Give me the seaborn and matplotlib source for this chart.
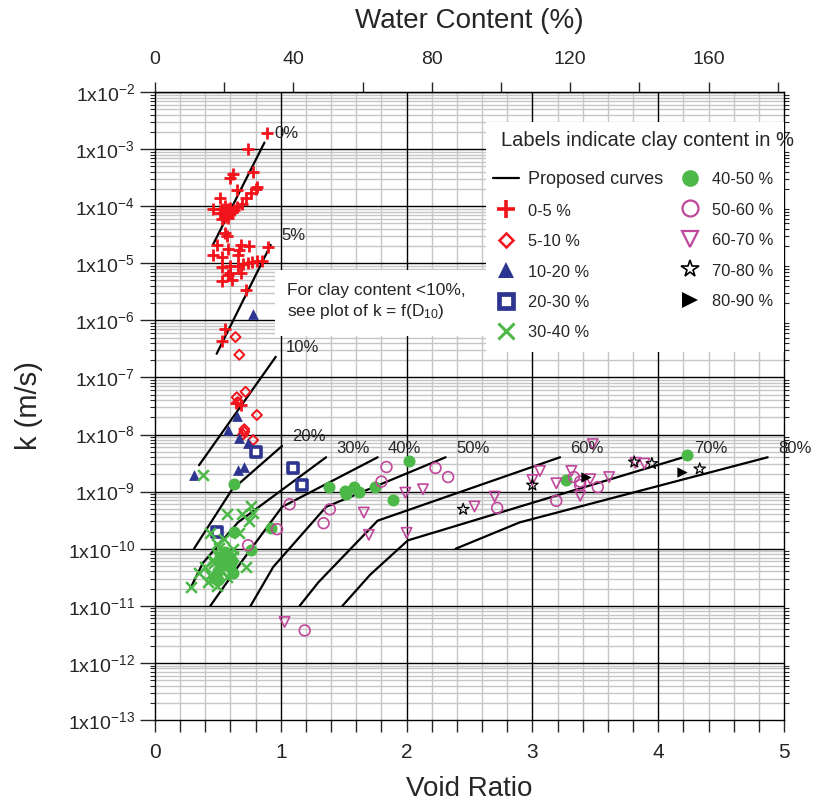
import numpy as np
import pandas as pd
import matplotlib
matplotlib.use("Agg")
import matplotlib.pyplot as plt
import matplotlib.ticker as mticker
from matplotlib.lines import Line2D
from matplotlib.patches import Rectangle
import seaborn as sns

# ---------------- data ----------------
# Proposed curves (void ratio, k in m/s) at their break points
curve_names = ["0%", "5%", "10%", "20%", "30%", "40%", "50%", "60%", "70%", "80%"]
curve_e = [
    [0.46, 0.87],
    [0.49, 0.92],
    [0.35, 0.96],
    [0.31, 0.61, 1.01],
    [0.28, 0.38, 0.66, 1.36],
    [0.44, 0.68, 1.01, 1.77],
    [0.76, 0.94, 1.36, 2.31],
    [1.15, 1.30, 1.77, 3.22],
    [1.49, 1.71, 2.01, 4.20],
    [2.39, 2.90, 4.87],
]
curve_k = [
    [2.1e-5, 1.3e-3],
    [2.6e-7, 2.1e-5],
    [2.9e-9, 2.3e-7],
    [1.0e-10, 1.07e-9, 6.3e-9],
    [2.0e-11, 5.6e-11, 2.9e-10, 4.0e-9],
    [1.0e-11, 5.6e-11, 5.4e-10, 4.0e-9],
    [1.0e-11, 4.8e-11, 5.4e-10, 4.0e-9],
    [1.0e-11, 2.6e-11, 3.1e-10, 4.0e-9],
    [1.0e-11, 3.5e-11, 1.4e-10, 4.0e-9],
    [1.0e-10, 2.9e-10, 4.0e-9],
]

# Measured samples, grouped by clay content
e_0_5 = [0.89, 0.74, 0.78, 0.62, 0.60, 0.81, 0.80, 0.65, 0.76, 0.72, 0.52, 0.69, 0.65, 0.46,
         0.53, 0.56, 0.58, 0.60, 0.54, 0.57, 0.60, 0.56, 0.58, 0.53, 0.61, 0.52, 0.56, 0.63,
         0.56, 0.57, 0.49, 0.58, 0.68, 0.75, 0.67, 0.46, 0.53, 0.66, 0.53, 0.60, 0.66, 0.70,
         0.74, 0.77, 0.81, 0.85, 0.60, 0.58, 0.68, 0.53, 0.61, 0.72, 0.90, 0.56, 0.53, 0.64, 0.68]
k_0_5 = [1.9e-3, 1.0e-3, 3.9e-4, 3.6e-4, 3.1e-4, 2.2e-4, 2.0e-4, 1.9e-4, 1.7e-4, 1.4e-4, 1.4e-4,
         1.1e-4, 9.8e-5, 9.0e-5, 8.9e-5, 8.6e-5, 8.9e-5, 9.3e-5, 7.6e-5, 7.3e-5, 7.6e-5, 6.5e-5,
         6.2e-5, 6.0e-5, 7.9e-5, 7.6e-5, 1.0e-4, 8.6e-5, 3.4e-5, 3.0e-5, 2.1e-5, 1.8e-5, 2.1e-5,
         2.0e-5, 1.7e-5, 1.4e-5, 1.3e-5, 1.4e-5, 8.7e-6, 8.9e-6, 9.0e-6, 9.7e-6, 1.0e-5, 1.05e-5,
         1.1e-5, 1.1e-5, 6.8e-6, 6.2e-6, 6.8e-6, 4.8e-6, 5.0e-6, 3.4e-6, 1.95e-5, 7.1e-7, 4.4e-7,
         3.6e-8, 3.3e-8]

e_5_10 = [0.64, 0.67, 0.72, 0.65, 0.66, 0.81, 0.71, 0.71, 0.78, 0.70]
k_5_10 = [5.1e-7, 2.5e-7, 5.6e-8, 4.5e-8, 3.7e-8, 2.2e-8, 1.24e-8, 1.12e-8, 8.0e-9, 1.0e-8]

e_10_20 = [0.78, 0.65, 0.58, 0.67, 0.74, 0.31, 0.66, 0.71]
k_10_20 = [1.3e-6, 2.1e-8, 1.2e-8, 8.6e-9, 7.0e-9, 1.96e-9, 2.4e-9, 2.7e-9]

e_20_30 = [0.80, 0.49, 1.10, 1.17]
k_20_30 = [5.0e-9, 2.0e-10, 2.6e-9, 1.3e-9]

e_30_40 = [0.38, 0.57, 0.69, 0.76, 0.78, 0.75, 0.44, 0.67, 0.55, 0.51, 0.62, 0.46, 0.35,
           0.42, 0.72, 0.29, 0.49, 0.50, 0.47, 0.53, 0.44, 0.57, 0.40, 0.62, 0.49]
k_30_40 = [1.96e-9, 4.1e-10, 4.0e-10, 5.5e-10, 4.2e-10, 3.0e-10, 1.9e-10, 1.9e-10, 1.5e-10,
           1.05e-10, 9.8e-11, 6.4e-11, 3.7e-11, 2.6e-11, 4.8e-11, 2.1e-11, 2.2e-11, 7.8e-11,
           5.6e-11, 4.1e-11, 3.5e-11, 3.2e-11, 4.8e-11, 7.5e-11, 1.2e-10]

e_40_50 = [0.63, 0.92, 0.76, 0.63, 1.38, 1.51, 1.52, 1.58, 1.62, 1.75, 1.89, 2.02, 3.27, 4.23,
           0.52, 0.60, 0.53, 0.60, 0.50, 0.62, 0.50, 0.55, 0.47, 0.56, 0.61]
k_40_50 = [1.35e-9, 2.3e-10, 9.5e-11, 2.0e-10, 1.2e-9, 1.03e-9, 9.1e-10, 1.2e-9, 1.0e-9, 1.2e-9,
           7.2e-10, 3.5e-9, 1.6e-9, 4.3e-9, 7.3e-11, 7.3e-11, 5.2e-11, 4.7e-11, 4.0e-11, 3.7e-11,
           2.8e-11, 6.4e-11, 3.1e-11, 8.8e-11, 6.1e-11]

e_50_60 = [1.07, 0.97, 1.39, 1.34, 0.74, 1.19, 1.84, 1.80, 2.23, 2.33, 2.72, 3.19, 3.33, 3.38,
           3.38, 3.52]
k_50_60 = [6.0e-10, 2.2e-10, 4.9e-10, 2.8e-10, 1.15e-10, 3.7e-12, 2.7e-9, 1.5e-9, 2.6e-9, 1.8e-9,
           5.2e-10, 6.9e-10, 1.8e-9, 1.5e-9, 1.3e-9, 1.2e-9]

e_60_70 = [1.03, 1.66, 1.70, 2.00, 1.99, 2.13, 2.54, 2.70, 3.00, 3.06, 3.19, 3.31, 3.38, 3.46,
           3.61, 3.48, 3.82, 3.89]
k_60_70 = [5.2e-12, 4.3e-10, 1.75e-10, 1.9e-10, 9.6e-10, 1.1e-9, 5.5e-10, 8.2e-10, 1.6e-9, 2.3e-9,
           1.4e-9, 2.3e-9, 8.4e-10, 1.65e-9, 1.8e-9, 6.8e-9, 3.2e-9, 3.1e-9]

e_70_80 = [2.45, 3.00, 3.95, 4.33, 3.81]
k_70_80 = [4.9e-10, 1.3e-9, 3.1e-9, 2.5e-9, 3.3e-9]

e_80_90 = [4.19, 3.43]
k_80_90 = [2.2e-9, 1.8e-9]

group_labels = ["0-5 %", "5-10 %", "10-20 %", "20-30 %", "30-40 %",
                "40-50 %", "50-60 %", "60-70 %", "70-80 %", "80-90 %"]
group_e = [e_0_5, e_5_10, e_10_20, e_20_30, e_30_40, e_40_50, e_50_60, e_60_70, e_70_80, e_80_90]
group_k = [k_0_5, k_5_10, k_10_20, k_20_30, k_30_40, k_40_50, k_50_60, k_60_70, k_70_80, k_80_90]

y_decades = list(range(-13, -1))
x_ticks = [0, 1, 2, 3, 4, 5]
w_ticks = [0, 40, 80, 120, 160]
w_minor = [20, 60, 100, 140, 180]
GS = 2.75  # specific gravity linking void ratio to water content (saturated soil)

# ---------------- styling ----------------
RED = "#f2131b"
NAVY = "#2d3590"
GREEN = "#4cb848"
MAG = "#c0479b"

sns.set_style("ticks")
plt.rcParams["font.family"] = ["Liberation Sans", "DejaVu Sans"]
plt.rcParams["mathtext.fontset"] = "custom"
plt.rcParams["mathtext.rm"] = "Liberation Sans"
plt.rcParams["mathtext.it"] = "Liberation Sans:italic"
plt.rcParams["mathtext.bf"] = "Liberation Sans:bold"

scatter_styles = {
    "0-5 %": dict(marker="+", color=RED, s=85, linewidth=2.0),
    "5-10 %": dict(marker="D", color=RED, facecolor="none", edgecolor=RED, s=26, linewidth=1.4),
    "10-20 %": dict(marker="^", color=NAVY, edgecolor=NAVY, s=60, linewidth=0),
    "20-30 %": dict(marker="s", color=NAVY, facecolor="white", edgecolor=NAVY, s=55, linewidth=2.6),
    "30-40 %": dict(marker="x", color=GREEN, s=60, linewidth=1.8),
    "40-50 %": dict(marker="o", color=GREEN, edgecolor=GREEN, s=75, linewidth=0),
    "50-60 %": dict(marker="o", color=MAG, facecolor="none", edgecolor=MAG, s=60, linewidth=1.2),
    "60-70 %": dict(marker="v", color=MAG, facecolor="none", edgecolor=MAG, s=55, linewidth=1.2),
    "70-80 %": dict(marker="*", color="black", facecolor="none", edgecolor="black", s=75,
                    linewidth=0.9),
    "80-90 %": dict(marker=">", color="black", edgecolor="black", s=55, linewidth=0),
}
legend_styles = {
    "0-5 %": dict(marker="+", color=RED, ms=13, mew=2.6, ls="none"),
    "5-10 %": dict(marker="D", color=RED, mfc="white", ms=7.5, mew=1.8, ls="none"),
    "10-20 %": dict(marker="^", color=NAVY, ms=11.5, mew=0, ls="none"),
    "20-30 %": dict(marker="s", color=NAVY, mfc="white", ms=9.5, mew=3.4, ls="none"),
    "30-40 %": dict(marker="x", color=GREEN, ms=11, mew=2.2, ls="none"),
    "40-50 %": dict(marker="o", color=GREEN, ms=12, mew=0, ls="none"),
    "50-60 %": dict(marker="o", color=MAG, mfc="white", ms=11.5, mew=1.6, ls="none"),
    "60-70 %": dict(marker="v", color=MAG, mfc="white", ms=11, mew=1.6, ls="none"),
    "70-80 %": dict(marker="*", color="black", mfc="white", ms=13, mew=1.2, ls="none"),
    "80-90 %": dict(marker=">", color="black", ms=11, mew=0, ls="none"),
}

W, H = 814, 808
fig = plt.figure(figsize=(W / 100, H / 100), dpi=100)
ax = fig.add_axes([155 / W, 1 - 720 / H, (784 - 155) / W, (720 - 92) / H])
ax.set_yscale("log")
ax.set_xlim(0, 5)
ax.set_ylim(1e-13, 1e-2)

# grid: grey minor lines, black major lines laid over them
ax.set_axisbelow(True)
x_minor = [round(i * 0.2, 1) for i in range(26) if i % 5 != 0]
ax.xaxis.set_major_locator(mticker.FixedLocator(x_ticks))
ax.xaxis.set_minor_locator(mticker.FixedLocator(x_minor))
ax.yaxis.set_major_locator(mticker.FixedLocator([10.0 ** d for d in y_decades]))
ax.yaxis.set_minor_locator(mticker.LogLocator(base=10, subs=np.arange(2, 10), numticks=40))
ax.yaxis.set_major_formatter(mticker.FuncFormatter(
    lambda v, p: r"1x10$^{%d}$" % int(round(np.log10(v)))))
ax.yaxis.set_minor_formatter(mticker.NullFormatter())
ax.grid(which="minor", color="#c6c6c6", linewidth=1.0)
for xv in x_ticks[1:-1]:
    ax.axvline(xv, color="black", linewidth=1.0, zorder=0.9)
for d in y_decades[1:]:
    ax.axhline(10.0 ** d, color="black", linewidth=1.0, zorder=0.9)
for sp in ax.spines.values():
    sp.set_linewidth(1.0)
    sp.set_color("black")

ax.tick_params(axis="x", which="both", direction="out", length=8.5, width=1, pad=8,
               labelsize=15, top=False)
ax.tick_params(axis="y", which="major", direction="out", length=10.5, width=1, pad=4,
               labelsize=14)
ax.tick_params(axis="y", which="minor", direction="out", length=3.5, width=0.8, right=True)

# proposed curves
curve_df = pd.concat(
    [pd.DataFrame({"curve": n, "e": e, "k": k}) for n, e, k in zip(curve_names, curve_e, curve_k)],
    ignore_index=True)
sns.lineplot(data=curve_df, x="e", y="k", units="curve", estimator=None, sort=False,
             color="black", linewidth=1.6, ax=ax, legend=False, zorder=3)
for n, e, k in zip(curve_names, curve_e, curve_k):
    ax.annotate(n, xy=(e[-1], k[-1]), xytext=(7.5, 6.5), textcoords="offset points",
                ha="left", va="center", fontsize=12, annotation_clip=False, zorder=6)

# measured samples
sample_df = pd.concat(
    [pd.DataFrame({"group": g, "e": e, "k": k}) for g, e, k in zip(group_labels, group_e, group_k)],
    ignore_index=True)
for g in group_labels:
    sub = sample_df[sample_df["group"] == g]
    sns.scatterplot(data=sub, x="e", y="k", ax=ax, legend=False, zorder=4, **scatter_styles[g])
ax.set_xlabel("Void Ratio", fontsize=20, labelpad=10)
ax.set_ylabel("k (m/s)", fontsize=21, labelpad=18)

# water content scale on top
sec = ax.secondary_xaxis("top", functions=(lambda e: np.asarray(e) / GS * 100,
                                           lambda w: np.asarray(w) * GS / 100))
sec.xaxis.set_major_locator(mticker.FixedLocator(w_ticks))
sec.xaxis.set_minor_locator(mticker.FixedLocator(w_minor))
sec.tick_params(which="both", direction="out", length=7.5, width=1, pad=10, labelsize=14)
sec.set_xlabel("Water Content (%)", fontsize=20, labelpad=16)

# white boxes for the notes
def fig_rect(x0, y0, x1, y1):
    return Rectangle((x0 / W, 1 - y1 / H), (x1 - x0) / W, (y1 - y0) / H,
                     transform=fig.transFigure, facecolor="white", edgecolor="none",
                     zorder=5, clip_on=False)

ax.add_patch(fig_rect(486, 122, 784, 352))
ax.add_patch(fig_rect(275, 270, 486, 336))
ax.text(287 / W, 1 - 302 / H, "For clay content <10%,\nsee plot of k = f(D$_{10}$)",
        transform=fig.transFigure, fontsize=12.5, ha="left", va="center",
        linespacing=1.25, zorder=6)
ax.text(501 / W, 1 - 140 / H, "Labels indicate clay content in %",
        transform=fig.transFigure, fontsize=14.5, ha="left", va="center", zorder=7)

handles = [Line2D([], [], color="black", linewidth=1.6)]
handles += [Line2D([], [], **legend_styles[g]) for g in group_labels]
labels = ["Proposed curves"] + group_labels
leg = ax.legend(handles, labels, ncol=2, loc="upper left",
                bbox_to_anchor=(486 / W, 1 - 164 / H), bbox_transform=fig.transFigure,
                frameon=False, fontsize=13, handlelength=1.4, handletextpad=0.55,
                columnspacing=0.75, labelspacing=0.82, borderpad=0.4, borderaxespad=0)
for t in leg.get_texts()[1:]:
    t.set_fontsize(11.8)
leg.set_zorder(7)

fig.savefig("out.png", dpi=100)
